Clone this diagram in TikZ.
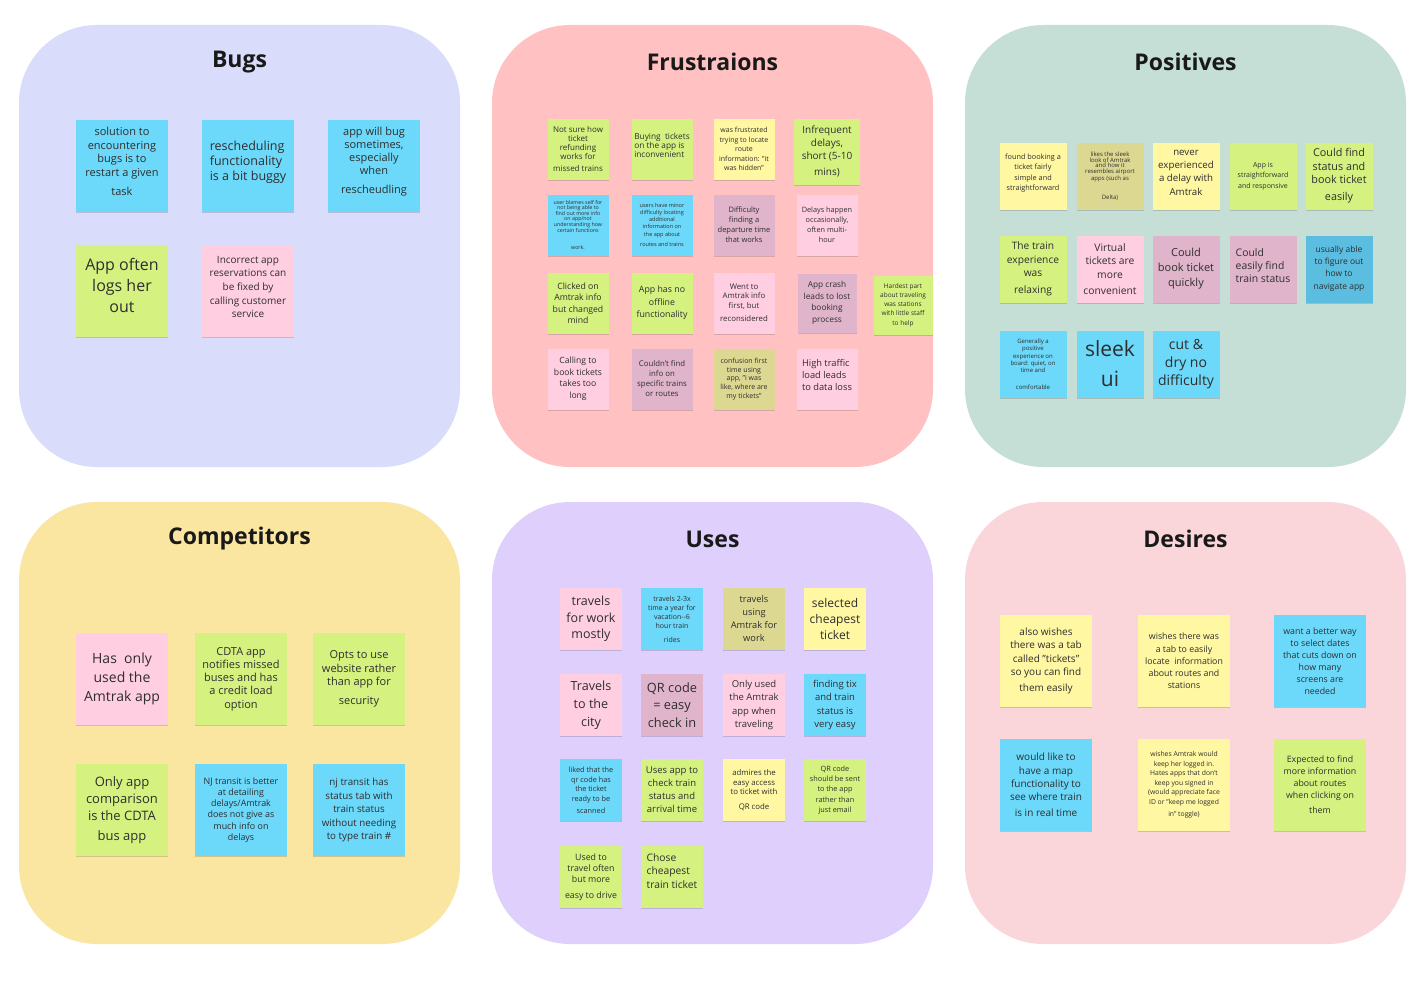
\documentclass[tikz,border=0pt]{standalone}
\usepackage{fontspec}
\setmainfont{Open Sans}
\usetikzlibrary{shadows}

\definecolor{ink}{HTML}{2E2E2E}
\definecolor{bugsbg}{HTML}{D9DCFB}
\definecolor{frustbg}{HTML}{FFC1C1}
\definecolor{posbg}{HTML}{C5DED6}
\definecolor{compbg}{HTML}{FAE6A0}
\definecolor{usesbg}{HTML}{DFCFFC}
\definecolor{desirebg}{HTML}{FAD6DA}

\definecolor{cyannote}{HTML}{6CD8FA}
\definecolor{bluenote}{HTML}{5BBEE0}
\definecolor{limenote}{HTML}{D5F280}
\definecolor{pinknote}{HTML}{FFCEE0}
\definecolor{yellownote}{HTML}{FFF7A1}
\definecolor{khakinote}{HTML}{DDD891}
\definecolor{mauvenote}{HTML}{E0B4CA}

\newcommand{\notesize}[2]{\fontsize{#1}{#2}\selectfont}

\begin{document}
\begin{tikzpicture}
    [x=1pt, y=-1pt,
     panel/.style={rectangle, rounded corners=78pt, minimum width=441pt,
                   minimum height=442pt, inner sep=0pt},
     title/.style={font=\fontsize{23}{28}\selectfont\bfseries, text=black!90},
     sticky/.style={rectangle, minimum size=#1, inner sep=1pt, align=center,
                    text=ink, drop shadow={shadow xshift=0pt, shadow yshift=-1.2pt,
                    fill=black, opacity=0.15}},
     lift/.style={text depth=#1}]

    \fill [white] (0, 0) rectangle (1427, 998);
    \useasboundingbox (0, 0) rectangle (1427, 998);

    % panels
    \node [panel, fill=bugsbg]   at (239.5, 246) (bugs) {};
    \node [panel, fill=frustbg]  at (712.5, 246) (frust) {};
    \node [panel, fill=posbg]    at (1185.5, 246) (pos) {};
    \node [panel, fill=compbg]   at (239.5, 723) (comp) {};
    \node [panel, fill=usesbg]   at (712.5, 723) (uses) {};
    \node [panel, fill=desirebg] at (1185.5, 723) (desire) {};

    \node [title] at (239.5, 62)  (tbugs) {Bugs};
    \node [title] at (712.5, 62)  (tfrust) {Frustraions};
    \node [title] at (1185.5, 62) (tpos) {Positives};
    \node [title] at (239.5, 539) (tcomp) {Competitors};
    \node [title] at (712.5, 539) (tuses) {Uses};
    \node [title] at (1185.5, 539) (tdesire) {Desires};

    % bugs
    \node [sticky=92pt, fill=cyannote, font=\notesize{11}{13.5}, lift=9pt] at (122, 166) (b1a)
        {solution to\\encountering\\bugs is to\\restart a given\\[6pt]task};
    \node [sticky=92pt, fill=cyannote, font=\notesize{12.5}{15}, align=left, lift=11pt] at (248, 166) (b2a)
        {rescheduling\\functionality\\is a bit buggy};
    \node [sticky=92pt, fill=cyannote, font=\notesize{11}{13}, lift=11pt] at (374, 166) (b3a)
        {app will bug\\sometimes,\\especially\\when\\[6pt]rescheudling};
    \node [sticky=92pt, fill=limenote, font=\notesize{16}{21}, lift=11pt] at (122, 291) (b1b)
        {App often\\logs her\\out};
    \node [sticky=92pt, fill=pinknote, font=\notesize{10}{13.7}, lift=8pt] at (248, 291) (b2b)
        {Incorrect app\\reservations can\\be fixed by\\calling customer\\service};

    % frustrations
    \node [sticky=61pt, fill=limenote, font=\notesize{8}{9}] at (578, 149) (f1a)
        {Not sure how\\ticket\\refunding\\works for\\[3.5pt]missed trains};
    \node [sticky=61pt, fill=limenote, font=\notesize{8.3}{9}, align=left, lift=8pt] at (662, 149) (f2a)
        {Buying\ \ tickets\\on the app is\\inconvenient};
    \node [sticky=61pt, fill=yellownote, font=\notesize{7}{9.5}] at (744, 149) (f3a)
        {was frustrated\\trying to locate\\route\\information: "it\\was hidden"};
    \node [sticky=66pt, fill=limenote, font=\notesize{10}{13.3}] at (827, 151.5) (f4a)
        {Infrequent\\delays,\\short (5-10\\[3pt]mins)};

    \node [sticky=61pt, fill=cyannote, font=\notesize{5.3}{4.9}] at (578, 225) (f1b)
        {user blames self for\\not being able to\\find out more info\\on app/not\\understanding how\\certain functions\\[12pt]work.};
    \node [sticky=61pt, fill=cyannote, font=\notesize{5.5}{7.2}] at (662, 225) (f2b)
        {users have minor\\difficulty locating\\additional\\information on\\the app about\\[3.5pt]routes and trains};
    \node [sticky=61pt, fill=mauvenote, font=\notesize{7.5}{10}] at (744, 225) (f3b)
        {Difficulty\\finding a\\departure time\\that works};
    \node [sticky=61pt, fill=pinknote, font=\notesize{7.3}{10}] at (827, 225) (f4b)
        {Delays happen\\occasionally,\\often multi-\\hour};

    \node [sticky=61pt, fill=limenote, font=\notesize{8.7}{11.5}] at (578, 303) (f1c)
        {Clicked on\\Amtrak info\\but changed\\mind};
    \node [sticky=61pt, fill=limenote, font=\notesize{8.8}{12.5}] at (662, 303) (f2c)
        {App has no\\offline\\functionality};
    \node [sticky=61pt, fill=pinknote, font=\notesize{7.8}{9.5}] at (744, 303) (f3c)
        {Went to\\Amtrak info\\first, but\\[4pt]reconsidered};
    \node [sticky=59pt, fill=mauvenote, font=\notesize{8.3}{11.5}] at (827, 303) (f4c)
        {App crash\\leads to lost\\booking\\process};
    \node [sticky=59pt, fill=limenote, font=\notesize{6.5}{9.3}] at (903, 305) (f5c)
        {Hardest part\\about traveling\\was stations\\with little staff\\to help};

    \node [sticky=61pt, fill=pinknote, font=\notesize{8.6}{11.5}] at (578, 379) (f1d)
        {Calling to\\book tickets\\takes too\\long};
    \node [sticky=61pt, fill=mauvenote, font=\notesize{7.8}{10}] at (662, 379) (f2d)
        {Couldn't find\\info on\\specific trains\\or routes};
    \node [sticky=61pt, fill=khakinote, font=\notesize{7}{8.8}] at (744, 379) (f3d)
        {confusion first\\time using\\app, "i was\\like, where are\\my tickets"};
    \node [sticky=61pt, fill=pinknote, font=\notesize{9.3}{12}, align=left, lift=8pt] at (827, 379) (f4d)
        {High traffic\\load leads\\to data loss};

    % positives
    \node [sticky=67pt, fill=yellownote, font=\notesize{7.3}{10.5}, lift=8pt] at (1033, 176) (p1a)
        {found booking a\\ticket fairly\\simple and\\straightforward};
    \node [sticky=67pt, fill=khakinote, font=\notesize{6}{5.6}] at (1110, 176) (p2a)
        {likes the sleek\\look of Amtrak\\and how it\\resembles airport\\apps (such as\\[12pt]Delta)};
    \node [sticky=67pt, fill=yellownote, font=\notesize{9.7}{13.3}, lift=7pt] at (1186, 176) (p3a)
        {never\\experienced\\a delay with\\Amtrak};
    \node [sticky=67pt, fill=limenote, font=\notesize{7}{10.5}] at (1263, 176) (p4a)
        {App is\\straightforward\\and responsive};
    \node [sticky=67pt, fill=limenote, font=\notesize{10.8}{13.3}] at (1339, 176) (p5a)
        {Could find\\status and\\book ticket\\[4pt]easily};

    \node [sticky=67pt, fill=limenote, font=\notesize{10.2}{13.5}] at (1033, 269) (p1b)
        {The train\\experience\\was\\[3pt]relaxing};
    \node [sticky=67pt, fill=pinknote, font=\notesize{10.3}{13.5}] at (1110, 269) (p2b)
        {Virtual\\tickets are\\more\\[3pt]convenient};
    \node [sticky=67pt, fill=mauvenote, font=\notesize{11}{15}] at (1186, 269) (p3b)
        {Could\\book ticket\\quickly};
    \node [sticky=67pt, fill=mauvenote, font=\notesize{10.4}{13.3}, align=left, lift=7pt] at (1263, 269) (p4b)
        {Could\\easily find\\train status};
    \node [sticky=67pt, fill=bluenote, font=\notesize{8.5}{11.7}] at (1339, 269) (p5b)
        {usually able\\to figure out\\how to\\[2pt]navigate app};

    \node [sticky=67pt, fill=cyannote, font=\notesize{6}{7.3}] at (1033, 364) (p1c)
        {Generally a\\positive\\experience on\\board: quiet, on\\time and\\[9pt]comfortable};
    \node [sticky=67pt, fill=cyannote, font=\notesize{21}{30}] at (1110, 364) (p2c)
        {sleek\\ui};
    \node [sticky=67pt, fill=cyannote, font=\notesize{14}{18.3}] at (1186, 364) (p3c)
        {cut \&\\dry no\\difficulty};

    % competitors
    \node [sticky=92pt, fill=pinknote, font=\notesize{14}{19.3}] at (122, 679) (c1a)
        {Has\ \ only\\used the\\Amtrak app};
    \node [sticky=92pt, fill=limenote, font=\notesize{11}{13.2}] at (241, 679) (c2a)
        {CDTA app\\notifies missed\\buses and has\\a credit load\\option};
    \node [sticky=92pt, fill=limenote, font=\notesize{11}{13.3}] at (359, 679) (c3a)
        {Opts to use\\website rather\\than app for\\[6pt]security};
    \node [sticky=92pt, fill=limenote, font=\notesize{13}{16.8}] at (122, 810) (c1b)
        {Only app\\comparison\\is the CDTA\\[3pt]bus app};
    \node [sticky=92pt, fill=cyannote, font=\notesize{8.9}{11.3}] at (241, 810) (c2b)
        {NJ transit is better\\at detailing\\delays/Amtrak\\does not give as\\much info on\\delays};
    \node [sticky=92pt, fill=cyannote, font=\notesize{9.8}{13.5}] at (359, 810) (c3b)
        {nj transit has\\status tab with\\train status\\without needing\\to type train \#};

    % uses
    \node [sticky=62pt, fill=pinknote, font=\notesize{12.5}{16.5}] at (591, 619) (u1a)
        {travels\\for work\\mostly};
    \node [sticky=62pt, fill=cyannote, font=\notesize{7}{9.3}] at (672, 619) (u2a)
        {travels 2-3x\\time a year for\\vacation-{}-6\\hour train\\[4pt]rides};
    \node [sticky=62pt, fill=khakinote, font=\notesize{9.3}{13}] at (754, 619) (u3a)
        {travels\\using\\Amtrak for\\work};
    \node [sticky=62pt, fill=yellownote, font=\notesize{12}{16}] at (835, 619) (u4a)
        {selected\\cheapest\\ticket};

    \node [sticky=62pt, fill=pinknote, font=\notesize{12.6}{18}] at (591, 705) (u1b)
        {Travels\\to the\\city};
    \node [sticky=62pt, fill=mauvenote, font=\notesize{12.8}{17.8}] at (672, 705) (u2b)
        {QR code\\= easy\\check in};
    \node [sticky=62pt, fill=pinknote, font=\notesize{9.5}{13.3}] at (754, 705) (u3b)
        {Only used\\the Amtrak\\app when\\traveling};
    \node [sticky=62pt, fill=cyannote, font=\notesize{9.5}{13.5}] at (835, 705) (u4b)
        {finding tix\\and train\\status is\\very easy};

    \node [sticky=62pt, fill=cyannote, font=\notesize{7.3}{9.8}] at (591, 790) (u1c)
        {liked that the\\qr code has\\the ticket\\ready to be\\[1.5pt]scanned};
    \node [sticky=62pt, fill=limenote, font=\notesize{9.5}{13}] at (672, 790) (u2c)
        {Uses app to\\check train\\status and\\arrival time};
    \node [sticky=62pt, fill=yellownote, font=\notesize{7.8}{9.5}] at (754, 790) (u3c)
        {admires the\\easy access\\to ticket with\\[5pt]QR code};
    \node [sticky=62pt, fill=limenote, font=\notesize{7.3}{10.3}] at (835, 790) (u4c)
        {QR code\\should be sent\\to the app\\rather than\\just email};

    \node [sticky=62pt, fill=limenote, font=\notesize{8.8}{11.2}] at (591, 877) (u1d)
        {Used to\\travel often\\but more\\[4pt]easy to drive};
    \node [sticky=62pt, fill=limenote, font=\notesize{10.3}{13.5}, align=left, lift=12pt] at (672, 877) (u2d)
        {Chose\\cheapest\\train ticket};

    % desires
    \node [sticky=92pt, fill=yellownote, font=\notesize{10}{13.3}] at (1046, 661) (d1a)
        {also wishes\\there was a tab\\called "tickets"\\so you can find\\[3pt]them easily};
    \node [sticky=92pt, fill=yellownote, font=\notesize{8.8}{12.3}] at (1184, 661) (d2a)
        {wishes there was\\a tab to easily\\locate\ \ information\\about routes and\\stations};
    \node [sticky=92pt, fill=cyannote, font=\notesize{8.8}{12}] at (1320, 661) (d3a)
        {want a better way\\to select dates\\that cuts down on\\how many\\screens are\\needed};
    \node [sticky=92pt, fill=cyannote, font=\notesize{10}{13.2}] at (1046, 785) (d1b)
        {would like to\\have a map\\functionality to\\see where train\\[3pt]is in real time};
    \node [sticky=92pt, fill=yellownote, font=\notesize{6.8}{9.5}] at (1184, 785) (d2b)
        {wishes Amtrak would\\keep her logged in.\\Hates apps that don't\\keep you signed in\\(would appreciate face\\ID or "keep me logged\\[3pt]in" toggle)};
    \node [sticky=92pt, fill=limenote, font=\notesize{8.8}{11.7}] at (1320, 785) (d3b)
        {Expected to find\\more information\\about routes\\when clicking on\\[4pt]them};

\end{tikzpicture}
\end{document}
